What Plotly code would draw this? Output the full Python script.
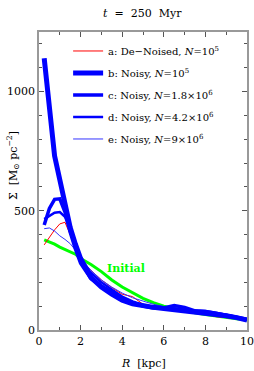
import plotly.graph_objects as go

R = [0.25, 0.5, 0.75, 1.0, 1.25, 1.5, 1.75, 2.0, 2.5, 3.0, 3.5, 4.0, 4.5, 5.0, 5.5, 6.0, 6.5, 7.0, 7.5, 8.0, 8.5, 9.0, 9.5, 10.0]

sigma_initial = [378, 370, 360, 348, 338, 330, 318, 300, 275, 245, 210, 180, 155, 133, 115, 100, 90, 80, 72, 65, 58, 53, 47, 42]
sigma_a = [357, 390, 420, 445, 452, 400, 345, 295, 250, 210, 178, 150, 140, 108, 97, 92, 85, 80, 75, 68, 56, 52, 48, 42]
sigma_b = [1140, 910, 730, 630, 520, 430, 360, 300, 220, 180, 150, 125, 110, 100, 95, 90, 85, 82, 78, 72, 65, 60, 52, 42]
sigma_c = [440, 510, 548, 550, 495, 410, 340, 280, 215, 185, 160, 128, 115, 100, 92, 92, 103, 95, 80, 78, 70, 62, 55, 45]
sigma_d = [465, 480, 492, 495, 475, 420, 355, 290, 240, 200, 170, 140, 120, 105, 98, 95, 90, 85, 82, 80, 72, 65, 55, 45]
sigma_e = [425, 428, 415, 395, 380, 362, 335, 300, 250, 210, 180, 155, 135, 120, 108, 98, 90, 83, 77, 72, 65, 60, 52, 44]

labels = [
    "a: De\u2212Noised, <i>N</i>=10<sup>5</sup>",
    "b: Noisy, <i>N</i>=10<sup>5</sup>",
    "c: Noisy, <i>N</i>=1.8\u00d710<sup>6</sup>",
    "d: Noisy, <i>N</i>=4.2\u00d710<sup>6</sup>",
    "e: Noisy, <i>N</i>=9\u00d710<sup>6</sup>",
]

x_ticks = [0, 2, 4, 6, 8, 10]
y_ticks = [0, 500, 1000]

FONT = "DejaVu Serif"
BLUE = "#0000ff"
GREEN = "#00ff00"

fig = go.Figure()
fig.add_trace(go.Scatter(x=R, y=sigma_initial, mode="lines", line=dict(color=GREEN, width=3),
                         showlegend=False))
fig.add_trace(go.Scatter(x=R, y=sigma_a, mode="lines", line=dict(color="#ff0000", width=1),
                         name=labels[0], legendgroup="a", legendrank=1))
fig.add_trace(go.Scatter(x=R, y=sigma_e, mode="lines", line=dict(color="#3333ff", width=1),
                         name=labels[4], legendgroup="e", legendrank=5))
fig.add_trace(go.Scatter(x=R, y=sigma_d, mode="lines", line=dict(color=BLUE, width=2.5),
                         name=labels[3], legendgroup="d", legendrank=4))
fig.add_trace(go.Scatter(x=R, y=sigma_c, mode="lines", line=dict(color=BLUE, width=3.5),
                         name=labels[2], legendgroup="c", legendrank=3))
fig.add_trace(go.Scatter(x=R, y=sigma_b, mode="lines", line=dict(color=BLUE, width=5),
                         name=labels[1], legendgroup="b", legendrank=2))

fig.add_annotation(x=4.2, y=256, text="<b>Initial</b>", showarrow=False,
                   font=dict(family=FONT, size=11, color=GREEN))

axis_common = dict(
    showline=True, linecolor="#999999", linewidth=1.5, mirror="allticks",
    ticks="inside", tickcolor="#555555", ticklen=5, tickwidth=1,
    showgrid=False, zeroline=False, automargin=False,
    tickfont=dict(family=FONT, size=11, color="black"),
)

fig.update_xaxes(range=[0, 10], tickvals=x_ticks, ticktext=[str(v) for v in x_ticks],
                 minor=dict(dtick=1, ticks="inside", ticklen=3, tickcolor="#555555"),
                 **axis_common)
fig.update_yaxes(range=[0, 1250], tickvals=y_ticks, ticktext=[str(v) for v in y_ticks],
                 minor=dict(dtick=100, ticks="inside", ticklen=3, tickcolor="#555555"),
                 **axis_common)

fig.add_annotation(xref="paper", yref="paper", x=0.5, y=-0.085, yanchor="top",
                   text="<i>R</i>  [kpc]", showarrow=False,
                   font=dict(family=FONT, size=11, color="black"))
fig.add_annotation(xref="paper", yref="paper", x=-0.125, xanchor="center", y=0.55,
                   text="\u03a3  [M<sub>\u2299</sub> pc<sup>\u22122</sup>]", textangle=-90,
                   showarrow=False, font=dict(family=FONT, size=11, color="black"))

fig.update_layout(
    width=254, height=371,
    margin=dict(l=39, r=7, t=32, b=41, autoexpand=False),
    paper_bgcolor="white", plot_bgcolor="white",
    title=dict(text="<i>t</i>  =  250  Myr", x=0.56, xanchor="center", y=0.965, yanchor="middle",
               font=dict(family=FONT, size=11, color="black")),
    legend=dict(x=0.14, y=0.985, xanchor="left", yanchor="top", bgcolor="rgba(0,0,0,0)",
                font=dict(family=FONT, size=10, color="black"),
                traceorder="grouped", tracegroupgap=3, itemwidth=30),
)

fig.write_html("out.html", config={"displayModeBar": False},
               post_script="document.body.style.margin='0';")
